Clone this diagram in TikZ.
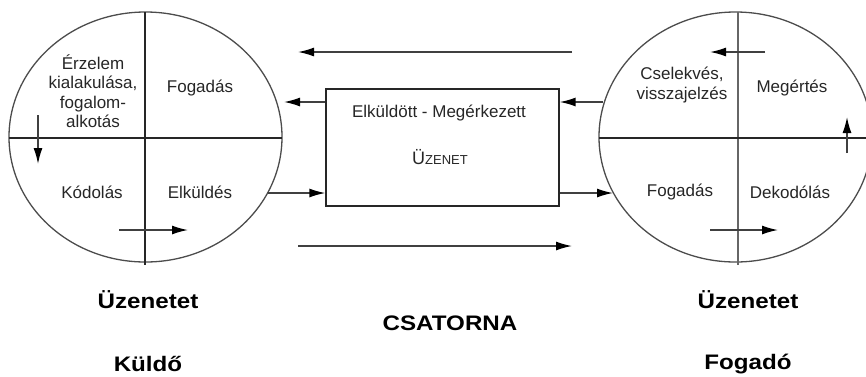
\documentclass[tikz,border=0pt]{standalone}
\usepackage{fontspec}
\setmainfont{Liberation Sans}
\newfontfamily\bigfont{Liberation Sans}[FakeStretch=1.15]
\usetikzlibrary{arrows.meta,shapes.geometric}
\begin{document}
\begin{tikzpicture}[x=1pt,y=-1pt,
  lbl/.style={font=\fontsize{17}{19.5}\selectfont, align=center, inner sep=0pt, text=black!85},
  biglbl/.style={font=\bigfont\fontsize{21}{24}\selectfont\bfseries, inner sep=0pt},
  circ/.style={ellipse, draw=black!70, line width=1.3pt, minimum width=273pt, minimum height=250pt, inner sep=0pt},
  divline/.style={draw=black!85, line width=1.2pt},
  divthick/.style={draw=black!60, line width=2pt},
  arr/.style={draw=black!75, line width=1.5pt, -{Latex[length=16pt,width=9pt,black]}},
  msgbox/.style={draw=black!85, line width=1.3pt, minimum width=233pt, minimum height=117pt, inner sep=0pt}
]
\useasboundingbox (0,0) rectangle (866,376);
\clip (0,0) rectangle (866,376);

% circles and box
\node[circ] (L) at (145.5,137) {};
\node[circ] (R) at (735.5,137) {};
\node[msgbox] (box) at (442.5,147.5) {};

% dividers, left circle
\coordinate (Lt) at (145,12);
\coordinate (Lb) at (145,265);
\coordinate (Ll) at (9,138);
\coordinate (Lr) at (282,138);
\draw[divline] (Lt) -- (Lb);
\draw[divline] (Ll) -- (Lr);

% dividers, right circle
\coordinate (Rt) at (738,12);
\coordinate (Rb) at (738,265);
\coordinate (Rl) at (599,138);
\coordinate (Rr) at (866,138);
\draw[divthick] (Rt) -- (Rb);
\draw[divline] (Rl) -- (Rr);

% texts, left circle
\node[lbl] (l1) at (93,91) {Érzelem\\kialakulása,\\fogalom-\\alkotás};
\node[lbl] (l2) at (200,88) {Fogadás};
\node[lbl] (l3) at (92,192) {Kódolás};
\node[lbl] (l4) at (200,192) {Elküldés};

% texts, right circle
\node[lbl] (r1) at (682,85) {Cselekvés,\\visszajelzés};
\node[lbl] (r2) at (792,88) {Megértés};
\node[lbl] (r3) at (680,192) {Fogadás};
\node[lbl] (r4) at (790,192) {Dekodólás};

% box texts
\node[lbl] (m1) at (439,113) {Elküldött - Megérkezett};
\node[lbl] (m2) at (440,157) {{\fontsize{18}{20}\selectfont Ü}{\fontsize{13}{15}\selectfont ZENET}};

% arrows inside left circle
\coordinate (ld1) at (38,115);
\coordinate (ld2) at (38,164);
\draw[arr] (ld1) -- (ld2);
\coordinate (lr1) at (119,230);
\coordinate (lr2) at (188,230);
\draw[arr] (lr1) -- (lr2);

% arrows inside right circle
\coordinate (rt1) at (765,52);
\coordinate (rt2) at (710,52);
\draw[arr] (rt1) -- (rt2);
\coordinate (rb1) at (710,230);
\coordinate (rb2) at (778,230);
\draw[arr] (rb1) -- (rb2);
\coordinate (ru1) at (847,153);
\coordinate (ru2) at (847,117);
\draw[arr] (ru1) -- (ru2);

% channel arrows
\coordinate (ct1) at (572,52);
\coordinate (ct2) at (298,52);
\draw[arr] (ct1) -- (ct2);
\coordinate (cb1) at (298,246);
\coordinate (cb2) at (572,246);
\draw[arr] (cb1) -- (cb2);

% box connections
\coordinate (bl1) at (284,102);
\draw[arr] (bl1 -| box.west) -- (bl1);
\coordinate (bl2) at (268,193);
\draw[arr] (bl2) -- (bl2 -| box.west);
\coordinate (br1) at (603,102);
\draw[arr] (br1) -- (br1 -| box.east);
\coordinate (br2) at (613,193);
\draw[arr] (br2 -| box.east) -- (br2);

% bottom labels
\node[biglbl] (s1) at (148,300) {Üzenetet};
\node[biglbl] (s2) at (148,364) {Küldő};
\node[biglbl] (ch) at (450,323) {CSATORNA};
\node[biglbl] (f1) at (748,300) {Üzenetet};
\node[biglbl] (f2) at (748,364) {Fogadó};
\end{tikzpicture}
\end{document}
